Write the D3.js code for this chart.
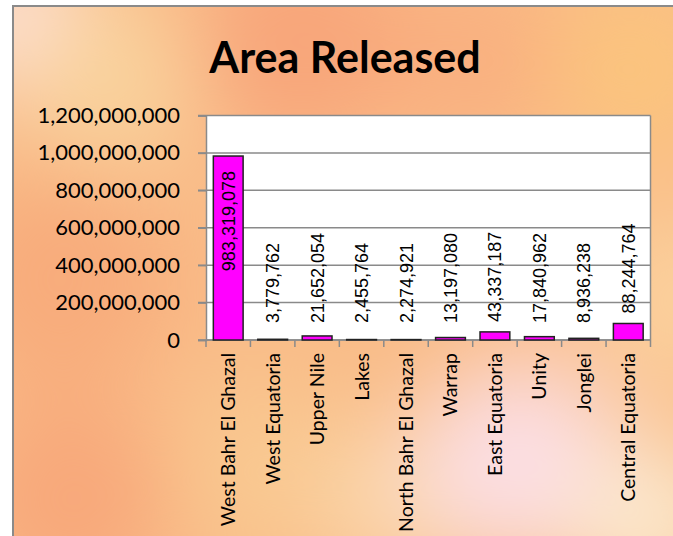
<!DOCTYPE html>
<html>
<head>
<meta charset="utf-8">
<script src="https://cdn.jsdelivr.net/npm/d3@7"></script>
<style>
  body { margin: 0; background: #fff; }
  svg { display: block; }
</style>
</head>
<body>
<div id="chart"></div>
<script>
var regions = ["West Bahr El Ghazal", "West Equatoria", "Upper Nile", "Lakes", "North Bahr El Ghazal",
               "Warrap", "East Equatoria", "Unity", "Jonglei", "Central Equatoria"];
var areaReleased = [983319078, 3779762, 21652054, 2455764, 2274921,
                    13197080, 43337187, 17840962, 8936238, 88244764];
var yTicks = [0, 200000000, 400000000, 600000000, 800000000, 1000000000, 1200000000];
var title = "Area Released";

function init(){
    var w = 673, h = 536;
    var margin = {top: 115.5, right: 22.5, bottom: 196, left: 206};

    var svg = d3.select("#chart").append("svg")
        .attr("width", w)
        .attr("height", h);

    var defs = svg.append("defs");
    defs.append("filter").attr("id", "blur")
        .attr("x", "-50%").attr("y", "-50%").attr("width", "200%").attr("height", "200%")
        .append("feGaussianBlur").attr("stdDeviation", 45);
    defs.append("clipPath").attr("id", "frame")
        .append("rect").attr("x", 13).attr("y", 6).attr("width", w - 13).attr("height", h - 6);

    // soft orange / peach background
    var bg = svg.append("g").attr("clip-path", "url(#frame)");
    bg.append("rect").attr("x", 13).attr("y", 6).attr("width", w).attr("height", h).attr("fill", "#f9bc88");
    var blobs = [
        [20, 20, 70, "#fde6e0"], [110, 80, 90, "#f9d29c"], [300, 40, 110, "#f8a67a"],
        [470, 60, 90, "#f9b080"], [640, 70, 90, "#fbc47e"], [60, 280, 110, "#f8ac7c"],
        [70, 500, 100, "#f8a87a"], [260, 470, 90, "#f9c890"], [400, 500, 80, "#fad6aa"],
        [520, 460, 100, "#fbdee4"], [650, 520, 80, "#fbe8cc"], [680, 300, 90, "#fbd09c"]
    ];
    bg.append("g").attr("filter", "url(#blur)")
        .selectAll("circle").data(blobs).enter().append("circle")
        .attr("cx", function(d){ return d[0]; })
        .attr("cy", function(d){ return d[1]; })
        .attr("r", function(d){ return d[2]; })
        .attr("fill", function(d){ return d[3]; });

    svg.append("path")
        .attr("d", "M13," + h + "V6H" + w)
        .attr("fill", "none").attr("stroke", "#8a8a8a").attr("stroke-width", 2);

    var x0 = margin.left, x1 = w - margin.right;
    var y0 = h - margin.bottom, y1 = margin.top;

    var xScale = d3.scaleBand().domain(regions).range([x0, x1]).paddingInner(0.33).paddingOuter(0.165);
    var xEdge = d3.scaleBand().domain(regions).range([x0, x1]);
    var yScale = d3.scaleLinear().domain([0, 1200000000]).range([y0, y1]);
    var fmt = d3.format(",");

    svg.append("rect")
        .attr("x", x0).attr("y", y1).attr("width", x1 - x0).attr("height", y0 - y1)
        .attr("fill", "#fff");

    // gridlines
    svg.append("g").selectAll("line").data(yTicks).enter().append("line")
        .attr("x1", x0 - 8).attr("x2", x1)
        .attr("y1", function(d){ return yScale(d); })
        .attr("y2", function(d){ return yScale(d); })
        .attr("stroke", "#8a8a8a").attr("stroke-width", 1.5);
    svg.append("line")
        .attr("x1", x1).attr("x2", x1).attr("y1", y1).attr("y2", y0)
        .attr("stroke", "#8a8a8a").attr("stroke-width", 1.5);

    // y axis
    var yAxis = d3.axisLeft(yScale).tickValues(yTicks).tickFormat(fmt).tickSize(8).tickPadding(18);
    var gy = svg.append("g").attr("transform", "translate(" + x0 + ",0)").call(yAxis);
    gy.selectAll("path, line").attr("stroke", "#8a8a8a").attr("stroke-width", 1.5);
    gy.selectAll("text").attr("font-family", "Lato, sans-serif").attr("font-size", 22).attr("fill", "#000");

    // x axis ticks at band edges
    var edges = regions.map(function(r){ return xEdge(r); }).concat([x1]);
    svg.append("line").attr("x1", x0).attr("x2", x1).attr("y1", y0).attr("y2", y0)
        .attr("stroke", "#8a8a8a").attr("stroke-width", 1.5);
    svg.append("g").selectAll("line").data(edges).enter().append("line")
        .attr("x1", function(d){ return d; }).attr("x2", function(d){ return d; })
        .attr("y1", y0).attr("y2", y0 + 7)
        .attr("stroke", "#8a8a8a").attr("stroke-width", 1.5);

    svg.append("g").selectAll("text").data(regions).enter().append("text")
        .attr("transform", function(d){
            return "translate(" + (xEdge(d) + xEdge.bandwidth() / 2 + 7) + "," + (y0 + 13) + ") rotate(-90)";
        })
        .attr("text-anchor", "end")
        .attr("font-family", "Lato, sans-serif").attr("font-size", 19.5)
        .text(function(d){ return d; });

    // bars
    svg.append("g").selectAll("rect").data(areaReleased).enter().append("rect")
        .attr("x", function(d, i){ return xScale(regions[i]); })
        .attr("y", function(d){ return yScale(d); })
        .attr("width", xScale.bandwidth())
        .attr("height", function(d){ return y0 - yScale(d); })
        .attr("fill", "#ff00ff")
        .attr("stroke", "#222").attr("stroke-width", 1.5);

    // data labels
    svg.append("g").selectAll("text").data(areaReleased).enter().append("text")
        .attr("transform", function(d, i){
            var cx = xEdge(regions[i]) + xEdge.bandwidth() / 2 + 6.5;
            var top = yScale(d);
            if (d > 500000000) {
                return "translate(" + cx + "," + (top + 15) + ") rotate(-90)";
            }
            return "translate(" + cx + "," + Math.min(top - 10, y0 - 17) + ") rotate(-90)";
        })
        .attr("text-anchor", function(d){ return d > 500000000 ? "end" : "start"; })
        .attr("font-family", "'Liberation Sans', Arial, sans-serif").attr("font-size", 18)
        .text(function(d){ return fmt(d); });

    svg.append("text")
        .attr("x", 345).attr("y", 73)
        .attr("text-anchor", "middle")
        .attr("font-family", "Lato, sans-serif").attr("font-weight", "bold").attr("font-size", 43)
        .text(title);
}
window.onload = init;
</script>
</body>
</html>
